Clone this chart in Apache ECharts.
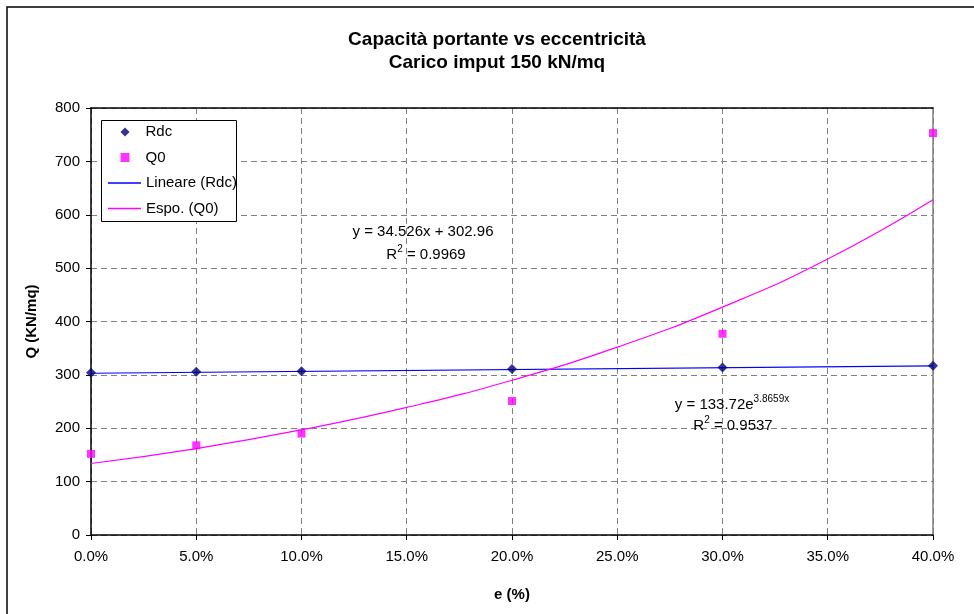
<!DOCTYPE html>
<html>
<head>
<meta charset="utf-8">
<script src="https://cdn.jsdelivr.net/npm/echarts@6/dist/echarts.min.js"></script>
<style>html,body{margin:0;padding:0;background:#fff}#c{width:974px;height:614px}</style>
</head>
<body>
<div id="c"></div>
<script>
// Data
const eccentricity = [0.00, 0.05, 0.10, 0.20, 0.30, 0.40];
const rdcValues = [304, 306, 307, 311, 314, 317];
const q0Values = [152, 168, 190, 251, 377, 753];
// Trendline readings
const linX = [0.00, 0.40];
const linY = [303.0, 316.8];
const expX = [0.00, 0.05, 0.10, 0.15, 0.20, 0.25, 0.30, 0.35, 0.40];
const expY = [134, 162, 197, 239, 290, 352, 427, 517, 628];
const xTicks = ['0.0%', '5.0%', '10.0%', '15.0%', '20.0%', '25.0%', '30.0%', '35.0%', '40.0%'];

const zip = (a, b) => a.map((v, i) => [v, b[i]]);
const FONT = 'Liberation Sans, Arial, sans-serif';
const legendText = {fontFamily: FONT, fontSize: 15, color: '#000', lineHeight: 16};
const rich = {
  n: {fontFamily: FONT, fontSize: 15, lineHeight: 18, verticalAlign: 'bottom'},
  s: {fontFamily: FONT, fontSize: 10, lineHeight: 18, verticalAlign: 'top'}
};

const chart = echarts.init(document.getElementById('c'), null, {renderer: 'canvas'});
chart.setOption({
  animation: false,
  backgroundColor: '#fff',
  textStyle: {fontFamily: FONT},
  grid: {left: 91, right: 41, top: 108, bottom: 79, containLabel: false},
  legend: [{
    orient: 'vertical', left: 120.5, top: 124, padding: 0, z: 30,
    itemWidth: 9, itemHeight: 9, itemGap: 9.5,
    textStyle: Object.assign({padding: [0, 0, 0, 11]}, legendText),
    data: [{name: 'Rdc', icon: 'diamond'}, {name: 'Q0', icon: 'rect'}]
  }, {
    orient: 'vertical', left: 108, top: 175, padding: 0, z: 30,
    itemWidth: 33, itemHeight: 1.5, itemGap: 9.5,
    textStyle: legendText,
    data: [{name: 'Lineare (Rdc)', icon: 'rect'}, {name: 'Espo. (Q0)', icon: 'rect'}]
  }],
  xAxis: [{
    type: 'value', min: 0, max: 0.4, interval: 0.05,
    name: 'e (%)', nameLocation: 'middle', nameGap: 52,
    nameTextStyle: {fontFamily: FONT, fontSize: 15, fontWeight: 'bold', color: '#000'},
    axisLine: {show: true, onZero: false, lineStyle: {color: '#000', width: 1.5}},
    axisTick: {show: true, inside: false, length: 5, lineStyle: {color: '#000'}},
    axisLabel: {fontFamily: FONT, fontSize: 15, color: '#000', margin: 14,
      formatter: v => xTicks[Math.round(v / 0.05)]},
    splitLine: {show: true, lineStyle: {color: '#808080', type: [6, 4], width: 1}}
  }, {
    type: 'value', min: 0, max: 0.4, position: 'top',
    axisLine: {show: true, onZero: false, lineStyle: {color: '#000', width: 1.5}},
    axisTick: {show: false}, axisLabel: {show: false}, splitLine: {show: false}
  }],
  yAxis: [{
    type: 'value', min: 0, max: 800, interval: 100,
    name: 'Q (KN/mq)', nameLocation: 'middle', nameGap: 52, nameRotate: 90,
    nameTextStyle: {fontFamily: FONT, fontSize: 15, fontWeight: 'bold', color: '#000'},
    axisLine: {show: true, onZero: false, lineStyle: {color: '#000', width: 1.5}},
    axisTick: {show: true, inside: false, length: 5, lineStyle: {color: '#000'}},
    axisLabel: {fontFamily: FONT, fontSize: 15, color: '#000', margin: 11},
    splitLine: {show: true, lineStyle: {color: '#808080', type: [6, 4], width: 1}}
  }, {
    type: 'value', min: 0, max: 800, position: 'right',
    axisLine: {show: true, onZero: false, lineStyle: {color: '#808080', width: 1.5}},
    axisTick: {show: false}, axisLabel: {show: false}, splitLine: {show: false}
  }],
  series: [
    {name: 'Rdc', type: 'scatter', symbol: 'diamond', symbolSize: 10, z: 5,
      itemStyle: {color: '#000080'}, data: zip(eccentricity, rdcValues)},
    {name: 'Q0', type: 'scatter', symbol: 'rect', symbolSize: 8, z: 5,
      itemStyle: {color: '#FF00FF'}, data: zip(eccentricity, q0Values)},
    {name: 'Lineare (Rdc)', type: 'line', symbol: 'none', z: 3,
      lineStyle: {color: '#0000FF', width: 1.2}, itemStyle: {color: '#0000FF'},
      data: zip(linX, linY)},
    {name: 'Espo. (Q0)', type: 'line', symbol: 'none', smooth: true, z: 3,
      lineStyle: {color: '#FF00FF', width: 1.2}, itemStyle: {color: '#FF00FF'},
      data: zip(expX, expY)}
  ],
  graphic: [
    {type: 'rect', silent: true, z: 50, shape: {x: 7, y: 7, width: 1000, height: 700},
      style: {fill: 'none', stroke: '#000', lineWidth: 1.5}},
    {type: 'rect', silent: true, z: 20, shape: {x: 101.5, y: 120.5, width: 135, height: 101},
      style: {fill: '#ffffff', stroke: '#000', lineWidth: 1}},
    {type: 'text', x: 497, y: 51, silent: true, z: 50,
      style: {text: 'Capacità portante vs eccentricità\nCarico imput 150 kN/mq',
        font: 'bold 19px ' + FONT, fill: '#000', align: 'center', verticalAlign: 'middle', lineHeight: 23}},
    {type: 'text', x: 423, y: 232, silent: true, z: 50,
      style: {text: 'y = 34.526x + 302.96', font: '15px ' + FONT, fill: '#000', align: 'center', verticalAlign: 'middle'}},
    {type: 'text', x: 426, y: 253, silent: true, z: 50,
      style: {text: '{n|R}{s|2}{n| = 0.9969}', align: 'center', verticalAlign: 'middle', fill: '#000', rich: rich}},
    {type: 'text', x: 732, y: 403, silent: true, z: 50,
      style: {text: '{n|y = 133.72e}{s|3.8659x}', align: 'center', verticalAlign: 'middle', fill: '#000', rich: rich}},
    {type: 'text', x: 733, y: 424, silent: true, z: 50,
      style: {text: '{n|R}{s|2}{n| = 0.9537}', align: 'center', verticalAlign: 'middle', fill: '#000', rich: rich}}
  ]
});
</script>
</body>
</html>
